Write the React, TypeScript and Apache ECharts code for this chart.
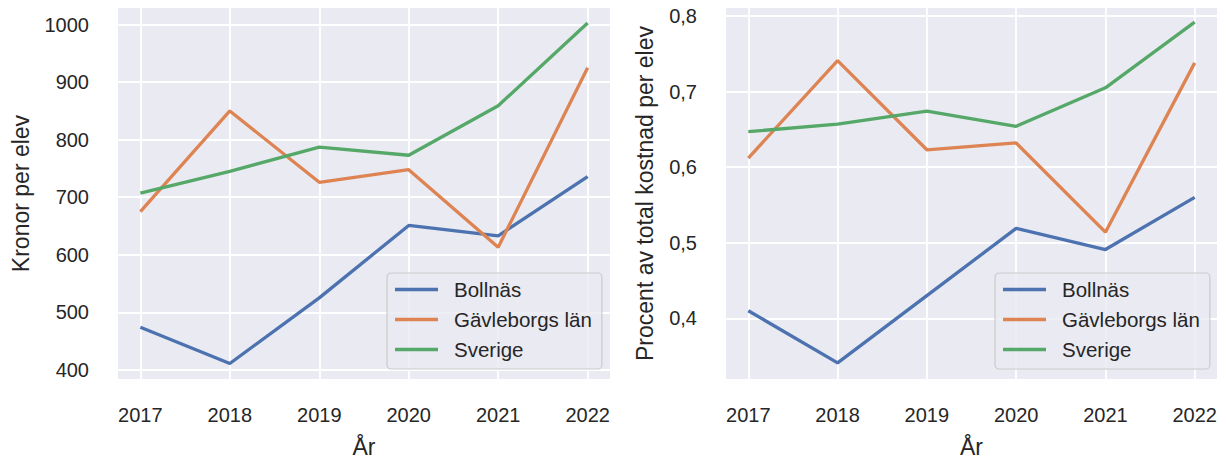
import React, { useEffect, useRef } from "react";
import * as echarts from "echarts";

const years = [2017, 2018, 2019, 2020, 2021, 2022];
const seriesNames = ["Bollnäs", "Gävleborgs län", "Sverige"];
const kronorBollnas = [474, 411, 525, 651, 633, 736];
const kronorGavleborg = [675, 850, 726, 748, 613, 925];
const kronorSverige = [707, 745, 787, 773, 859, 1003];
const procentBollnas = [0.41, 0.341, 0.43, 0.519, 0.491, 0.56];
const procentGavleborg = [0.612, 0.741, 0.623, 0.632, 0.514, 0.738];
const procentSverige = [0.647, 0.657, 0.674, 0.654, 0.705, 0.792];
const kronorTicks = [400, 500, 600, 700, 800, 900, 1000];
const procentTicks = [0.4, 0.5, 0.6, 0.7, 0.8];
const colors = ["#4c72b0", "#dd8452", "#55a868"];

const FONT = "'Liberation Sans', Arial, sans-serif";
const TEXT = "#262626";

function xAxisFor(gridIndex: number) {
  return {
    type: "value",
    gridIndex,
    min: 2016.75,
    max: 2022.25,
    name: "År",
    nameLocation: "middle",
    nameGap: 58,
    nameTextStyle: { fontFamily: FONT, fontSize: 23, lineHeight: 20, color: TEXT },
    axisLine: { show: false },
    axisTick: { show: false, customValues: years },
    axisLabel: {
      customValues: years,
      margin: 26,
      fontFamily: FONT,
      fontSize: 20,
      color: TEXT,
      formatter: (v: number) => String(Math.round(v)),
    },
    splitLine: { show: true, lineStyle: { color: "#ffffff", width: 1.8 } },
  };
}

function yAxisFor(gridIndex: number, min: number, max: number, ticks: number[], name: string, nameGap: number, fmt: (v: number) => string) {
  return {
    type: "value",
    gridIndex,
    min,
    max,
    name,
    nameLocation: "middle",
    nameGap,
    nameRotate: 90,
    nameTextStyle: { fontFamily: FONT, fontSize: 23, color: TEXT },
    axisLine: { show: false },
    axisTick: { show: false, customValues: ticks },
    axisLabel: {
      customValues: ticks,
      margin: 29,
      fontFamily: FONT,
      fontSize: 20,
      color: TEXT,
      formatter: fmt,
    },
    splitLine: { show: true, lineStyle: { color: "#ffffff", width: 1.8 } },
  };
}

function lineSeries(name: string, values: number[], idx: number, grid: number) {
  return {
    type: "line",
    name,
    xAxisIndex: grid,
    yAxisIndex: grid,
    data: years.map((y, i) => [y, values[i]]),
    showSymbol: false,
    symbol: "none",
    lineStyle: { color: colors[idx], width: 3.3 },
    itemStyle: { color: colors[idx] },
    z: 3,
  };
}

function legendFor(left: number) {
  return {
    left,
    top: 273,
    orient: "vertical",
    data: seriesNames,
    icon: "rect",
    itemWidth: 43,
    itemHeight: 3.3,
    itemGap: 9,
    padding: [6, 10, 9, 8],
    backgroundColor: "rgba(234,234,242,0.8)",
    borderColor: "#cccccc",
    borderWidth: 1.2,
    borderRadius: 4,
    textStyle: {
      fontFamily: FONT,
      fontSize: 20.5,
      color: TEXT,
      lineHeight: 21,
      padding: [0, 0, 0, 11],
    },
    selectedMode: false,
  };
}

export default function App() {
  const ref = useRef<HTMLDivElement>(null);
  useEffect(() => {
    if (!ref.current) return;
    const chart = echarts.init(ref.current, undefined, { renderer: "svg" });
    const kronor = [kronorBollnas, kronorGavleborg, kronorSverige];
    const procent = [procentBollnas, procentGavleborg, procentSverige];
    chart.setOption({
      animation: false,
      backgroundColor: "#ffffff",
      grid: [
        { left: 118, top: 8, width: 492, height: 371, backgroundColor: "#eaeaf2", show: true, borderWidth: 0, containLabel: false, outerBoundsMode: "none" },
        { left: 726, top: 8, width: 491, height: 371, backgroundColor: "#eaeaf2", show: true, borderWidth: 0, containLabel: false, outerBoundsMode: "none" },
      ],
      xAxis: [xAxisFor(0), xAxisFor(1)],
      yAxis: [
        yAxisFor(0, 384, 1029, kronorTicks, "Kronor per elev", 86, (v: number) => String(Math.round(v))),
        yAxisFor(1, 0.3197, 0.8106, procentTicks, "Procent av total kostnad per elev", 70, (v: number) => v.toFixed(1).replace(".", ",")),
      ],
      legend: [legendFor(387), legendFor(995)],
      series: [
        ...seriesNames.map((n, i) => lineSeries(n, kronor[i], i, 0)),
        ...seriesNames.map((n, i) => lineSeries(n, procent[i], i, 1)),
      ],
    });
    return () => chart.dispose();
  }, []);
  return <div ref={ref} style={{ position: "fixed", left: 0, top: 0, width: 1226, height: 459 }} />;
}
